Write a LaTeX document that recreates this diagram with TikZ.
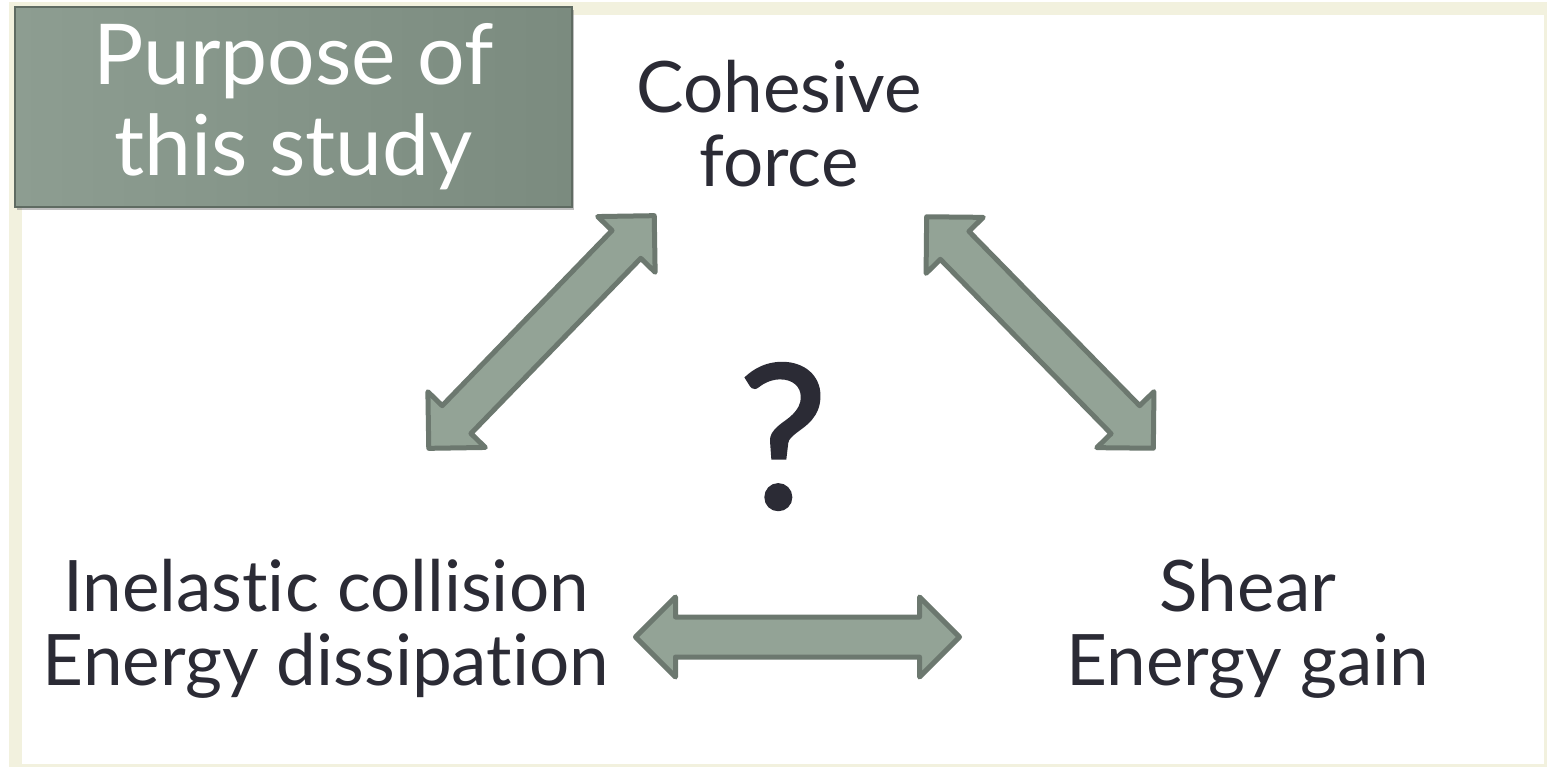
\documentclass[tikz,border=0pt]{standalone}
\usepackage{fontspec}
\setmainfont{Lato}[Ligatures=NoCommon]
\newfontfamily\qfont{Lato}[FakeBold=1.5]
\usetikzlibrary{shapes.arrows,shadows}
\definecolor{framecol}{RGB}{242,241,222}
\definecolor{txtcol}{RGB}{43,43,53}
\definecolor{arrowfill}{RGB}{147,163,150}
\definecolor{arrowline}{RGB}{108,120,111}
\definecolor{boxleft}{RGB}{141,157,145}
\definecolor{boxright}{RGB}{123,139,127}
\definecolor{boxline}{RGB}{95,107,98}
\begin{document}
\begin{tikzpicture}[x=1pt,y=-1pt]
	\tikzset{
		label/.style={text=txtcol, align=center, inner sep=0pt, font=\fontsize{71}{74}\selectfont},
		dblarrow/.style={double arrow, draw=arrowline, fill=arrowfill, line width=5pt, line join=round,
			minimum height=324pt, minimum width=75pt, double arrow head extend=20pt,
			double arrow tip angle=90, inner xsep=0pt, inner ysep=17.5pt},
		purposebox/.style={rectangle, draw=boxline, line width=1.2pt, left color=boxleft, right color=boxright,
			minimum width=557pt, minimum height=200pt, inner sep=0pt, text=white, align=center,
			font=\fontsize{84}{91}\selectfont,
			drop shadow={shadow xshift=2pt, shadow yshift=-3pt, opacity=0.5}}
	}
	\useasboundingbox (0,0) rectangle (1547,766);
	\fill[white] (0,0) rectangle (1547,766);
	\draw[line width=12.5pt, framecol] (15.25,8.25) rectangle (1550.25,769.75);

	\node[purposebox] (purpose) at (293.5,107) {Purpose of\\this study};

	\node[label] (cohesive) at (779,124) {Cohesive\\force};
	\node[label] (inelastic) at (326,629) {Inelastic collision\\Energy dissipation};
	\node[label] (shear) at (1248,629) {Shear\\Energy gain};
	\node[text=txtcol, inner sep=0pt, font=\qfont\fontsize{200}{200}\selectfont] (qmark) at (783,436.5) {?};

	% block arrows between the three terms
	\node[dblarrow, rotate=45.9] (arrowCI) at (541.5,332) {};
	\node[dblarrow, rotate=-45.6] (arrowCS) at (1040,332.5) {};
	\node[dblarrow] (arrowIS) at (797.5,637) {};
\end{tikzpicture}
\end{document}
